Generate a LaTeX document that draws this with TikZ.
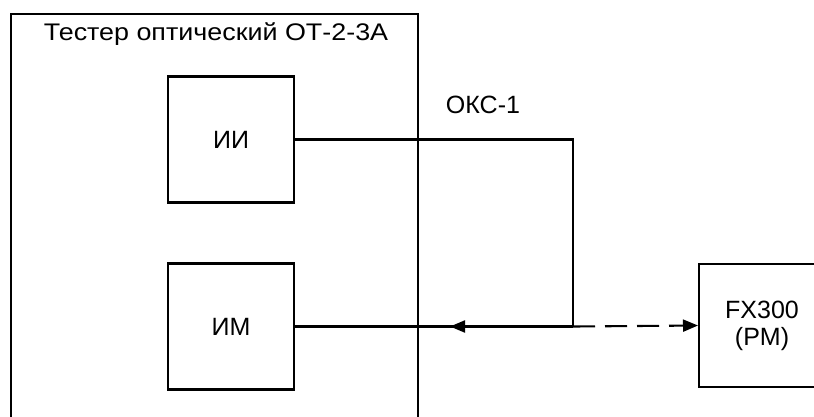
\documentclass[tikz,border=0pt]{standalone}
\usepackage{fontspec}
\setmainfont{Liberation Sans}
\usetikzlibrary{arrows.meta}
\begin{document}
\begin{tikzpicture}[x=1pt,y=-1pt,
  line width=2.1pt,
  blk/.style={draw, line width=2.1pt, minimum width=126pt, minimum height=126pt, inner sep=0pt, font=\fontsize{25}{30}\selectfont},
  link/.style={line width=2.1pt},
  tip/.style={-{Triangle[length=15pt,width=12pt]}},
  dashlink/.style={line width=2.1pt, dash pattern=on 22pt off 10pt}]
\useasboundingbox (0,0) rectangle (814,416);
\clip (0,0) rectangle (814,416);
\fill[white] (0,0) rectangle (814,416);
% outer tester box (bottom edge outside the picture)
\node[draw, line width=1.9pt, minimum width=407pt, minimum height=440pt, inner sep=0pt, anchor=north west] (tester) at (10,13) {};
\node[font=\fontsize{24}{28}\selectfont, xscale=1.12, transform shape] (title) at (216,34) {Тестер оптический ОТ-2-3А};
\node[blk] (ii) at (231,139.5) {ИИ};
\node[blk] (im) at (231,326.5) {ИМ};
\node[blk, minimum width=160pt, minimum height=123pt, anchor=west] (fx) at (698,325.5) {};
\node[font=\fontsize{25}{30}\selectfont, align=center] (fxt) at (762,326) {FX300\\[-3pt](PM)};
\node[font=\fontsize{25}{30}\selectfont] (oks) at (483,105) {ОКС-1};
\coordinate (j) at (573,326.5);
\coordinate (atip) at (450,326.5);
\draw[link] (ii.east) -| (j);
\draw[link] (j) -- (im.east);
\draw[link, tip] (j) -- (atip);
\draw[dashlink, tip] (j) -- (fx.west);
\end{tikzpicture}
\end{document}
